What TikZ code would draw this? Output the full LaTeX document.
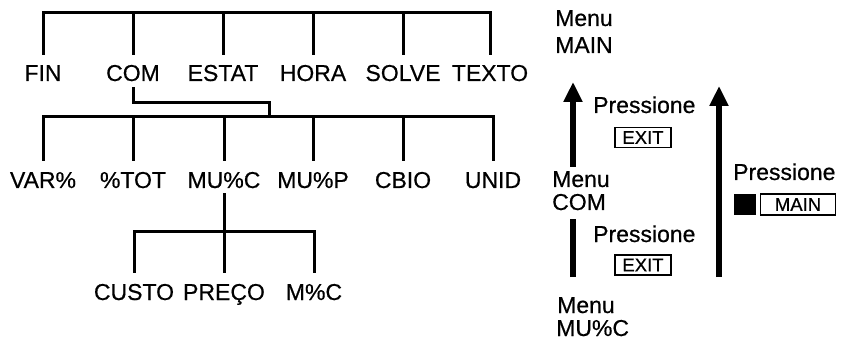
\documentclass[tikz,border=0pt]{standalone}
\usepackage{fontspec}
\setmainfont{Liberation Sans}[FakeBold=0.5]
\usetikzlibrary{arrows.meta}
\begin{document}
\begin{tikzpicture}[x=1pt,y=-1pt,
  lbl/.style={font=\fontsize{23}{27}\selectfont, inner sep=0pt, anchor=base, text height=16.5pt, text depth=0pt},
  lblw/.style={lbl, anchor=base west},
  tree/.style={line width=3pt, line join=miter},
  bigarrow/.style={line width=6pt, -{Triangle[width=18pt,length=20pt]}},
  bigbar/.style={line width=6pt},
  keybox/.style={draw, line width=1.4pt, inner sep=0pt, font=\fontsize{18.5}{21}\selectfont, minimum height=20pt}
]
\useasboundingbox (0,0) rectangle (842,347);
\coordinate (top1) at (0,13);
\coordinate (top2) at (0,117);
\coordinate (top3) at (0,231);
\coordinate (elbow) at (269,103);

% level 1
\node[lbl] (fin)   at (43,81)  {FIN};
\node[lbl] (com)   at (133,81) {COM};
\node[lbl] (estat) at (223,81) {ESTAT};
\node[lbl] (hora)  at (313,81) {HORA};
\node[lbl] (solve) at (403,81) {SOLVE};
\node[lbl] (texto) at (490,81) {TEXTO};
\draw[tree] ([yshift=9.5pt]fin.north) -- (fin.north |- top1) -- (texto.north |- top1) -- ([yshift=9.5pt]texto.north);
\foreach \n in {com,estat,hora,solve}
  \draw[tree] ([yshift=9.5pt]\n.north) -- (\n.north |- top1);
\draw[tree] ([yshift=-6pt]com.south) |- (elbow) -- (elbow |- top2);

% level 2
\node[lbl] (var)  at (43,188)  {VAR\%};
\node[lbl] (tot)  at (133,188) {\%TOT};
\node[lbl] (muc)  at (224,188) {MU\%C};
\node[lbl] (mup)  at (313,188) {MU\%P};
\node[lbl] (cbio) at (403,188) {CBIO};
\node[lbl] (unid) at (493,188) {UNID};
\draw[tree] ([yshift=10.5pt]var.north) -- (var.north |- top2) -- (unid.north |- top2) -- ([yshift=10.5pt]unid.north);
\foreach \n in {tot,muc,mup,cbio}
  \draw[tree] ([yshift=10.5pt]\n.north) -- (\n.north |- top2);

% level 3
\node[lbl] (custo) at (134,300) {CUSTO};
\node[lbl] (preco) at (224,300) {PREÇO};
\node[lbl] (mc)    at (314,300) {M\%C};
\draw[tree] ([yshift=-5pt]muc.south) -- ([yshift=10.5pt]preco.north);
\draw[tree] ([yshift=10.5pt]custo.north) -- (custo.north |- top3) -- (mc.north |- top3) -- ([yshift=10.5pt]mc.north);

% right side
\node[lblw] (menuA) at (555,26)  {Menu};
\node[lblw] (mainA) at (555,53)  {MAIN};
\node[lblw] (menuB) at (552,187) {Menu};
\node[lblw] (comB)  at (552,210) {COM};
\node[lblw] (menuC) at (557,313) {Menu};
\node[lblw] (mucC)  at (556,336) {MU\%C};

\node[lblw] (pressA) at (593,113) {Pressione};
\node[keybox, minimum width=56pt] (exitA) at (643,137.5) {EXIT};
\node[lblw] (pressB) at (593,242) {Pressione};
\node[keybox, minimum width=56pt] (exitB) at (643,265) {EXIT};
\node[lblw] (pressC) at (733,180) {Pressione};
\node[fill=black, minimum width=22pt, minimum height=21pt, inner sep=0pt] (blk) at (745,204.5) {};
\node[keybox, minimum width=75pt, minimum height=21pt] (mainkey) at (798,204.5) {MAIN};

\coordinate (a1s) at (573,167);
\coordinate (a1e) at (573,82);
\coordinate (b1s) at (573,277);
\coordinate (b1e) at (573,219);
\coordinate (a2s) at (719,277);
\coordinate (a2e) at (719,86);
\draw[bigarrow] (a1s) -- (a1e);
\draw[bigbar] (b1s) -- (b1e);
\draw[bigarrow] (a2s) -- (a2e);
\end{tikzpicture}
\end{document}
